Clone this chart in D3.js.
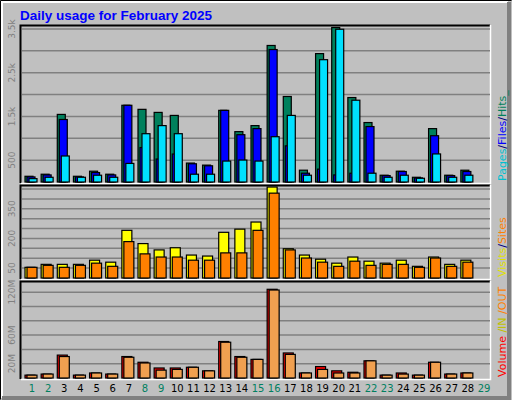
<!DOCTYPE html><html><head><meta charset="utf-8">
<script src="https://cdn.jsdelivr.net/npm/d3@7"></script>
<style>body{margin:0;background:#fff}</style></head><body>
<svg id="c" width="512" height="400"></svg>
<script>
const days=d3.range(1,30);
const weekend=[1,2,8,9,15,16,22,23,29];
const hits=[131,178,1546,131,247,178,1755,1662,1592,1523,433,386,1639,1152,1290,3123,1956,270,2937,3533,1932,1360,155,247,108,1221,155,270,0];
const files=[116,162,1430,116,216,162,1755,788,525,640,417,371,1639,1082,1221,3030,827,201,294,162,201,1268,147,240,93,1059,147,240,0];
const pages=[77,108,595,108,155,108,425,1105,1290,1105,178,178,479,502,479,1036,1523,155,2798,3494,1871,201,108,155,85,642,108,155,0];
const visits=[54,69,69,69,90,80,241,174,142,153,116,111,231,247,283,460,148,116,95,75,106,85,75,90,59,106,69,90,0];
const sites=[54,64,54,64,75,59,184,122,106,106,90,90,127,127,241,429,142,101,80,59,85,64,69,69,54,101,59,80,0];
const volume=[4,5.5,32,4,7,5.5,30,22,14,14,15,10,51,30,26,124,35,7,16,10,8,24,4,7,4,22,5.5,7,0];
const outv=[4,5.5,30,4,7,5.5,29,21,11,12,15,10,50,29,26,123,33,7,12,7,7,24,4,5.5,4,22,5.5,7,0];
const ticks1=[[500,"500"],[1500,"1.5k"],[2500,"2.5k"],[3500,"3.5k"]];
const ticks2=[[50,"50"],[200,"200"],[350,"350"]];
const ticks3=[[20,"20M"],[60,"60M"],[120,"120M"]];

const svg=d3.select("#c");
svg.append("rect").attr("x",0).attr("y",0).attr("width",512).attr("height",400).attr("fill","#c0c0c0");
svg.append("path").attr("d","M0.5,399.5V0.5H511.5").attr("stroke","#000").attr("fill","none");
svg.append("path").attr("d","M2,398V2H508").attr("stroke","#fff").attr("stroke-width",2).attr("fill","none");
svg.append("path").attr("d","M509,2V398H2").attr("stroke","#808080").attr("stroke-width",4).attr("fill","none");
svg.append("text").attr("x",20).attr("y",20).text("Daily usage for February 2025")
 .attr("font-family","Liberation Sans, Arial").attr("font-weight","bold").attr("font-size",13.5).attr("fill","#0000ff");

const x=d3.scaleLinear().domain([1,29]).range([32,484]);
const font="DejaVu Sans, Liberation Sans";
function panel(y0,y1,max,step,ticks,series,label){
  const y=d3.scaleLinear().domain([0,max]).range([y1-1,y0+4]);
  const g=svg.append("g");
  g.append("rect").attr("x",20).attr("y",y0).attr("width",470).attr("height",y1-y0).attr("fill","#c0c0c0");
  g.append("path").attr("d",`M20.5,${y1}V${y0+0.5}H490`).attr("stroke","#000").attr("stroke-width",2).attr("fill","none");
  g.append("path").attr("d",`M21,${y1+0.5}H490.5V${y0}`).attr("stroke","#fff").attr("stroke-width",1.5).attr("fill","none");
  for(let v=step;v<=max;v+=step){
    g.append("line").attr("x1",22).attr("x2",490).attr("y1",y(v)).attr("y2",y(v)).attr("stroke","#808080").attr("stroke-width",1.5);
  }
  ticks.forEach(([v,t])=>{
    g.append("text").attr("transform",`translate(15,${y(v)}) rotate(-90)`).attr("text-anchor","middle")
     .attr("font-family",font).attr("font-size",9).attr("fill","#808080").text(t);
  });
  series.forEach((s,si)=>{
    g.selectAll(null).data(s.data).enter().filter(d=>d>0).append("rect")
     .attr("x",(d,i)=>x(i+1)-7+s.off).attr("width",s.w)
     .attr("y",d=>y(d)).attr("height",d=>y(0)-y(d))
     .attr("fill",s.c).attr("stroke","#000").attr("stroke-width",1.2);
  });
  const t=g.append("text").attr("transform",`translate(506,${y1-2}) rotate(-90)`).attr("font-family",font).attr("font-size",11);
  label.forEach(([s,c])=>t.append("tspan").attr("fill",c).text(s));
}
panel(25,183,3500,500,ticks1,[{data:hits,c:"#00805c",off:0,w:8},{data:files,c:"#0000ff",off:2,w:8},{data:pages,c:"#00e0ff",off:4,w:8}],
 [["Pages","#00c0d0"],["/","#000080"],["Files","#0000ff"],["/","#000080"],["Hits_","#00805c"]]);
panel(185,279,450,50,ticks2,[{data:visits,c:"#ffff00",off:0,w:10},{data:sites,c:"#ff8000",off:2,w:10}],
 [["Visits","#e0e000"],["/","#000080"],["Sites","#ff8000"]]);
panel(281,379,130,20,ticks3,[{data:volume,c:"#ff0000",off:0,w:10},{data:outv,c:"#f0a050",off:2,w:10}],
 [["Volume","#ff0000"],[" /IN","#c0c000"],[" /OUT","#ff8000"]]);
svg.selectAll(null).data(days).enter().append("text").attr("x",d=>x(d)).attr("y",392).attr("text-anchor","middle")
 .attr("font-family",font).attr("font-size",10).attr("fill",d=>weekend.includes(d)?"#008060":"#000").text(d=>d);
</script></body></html>
